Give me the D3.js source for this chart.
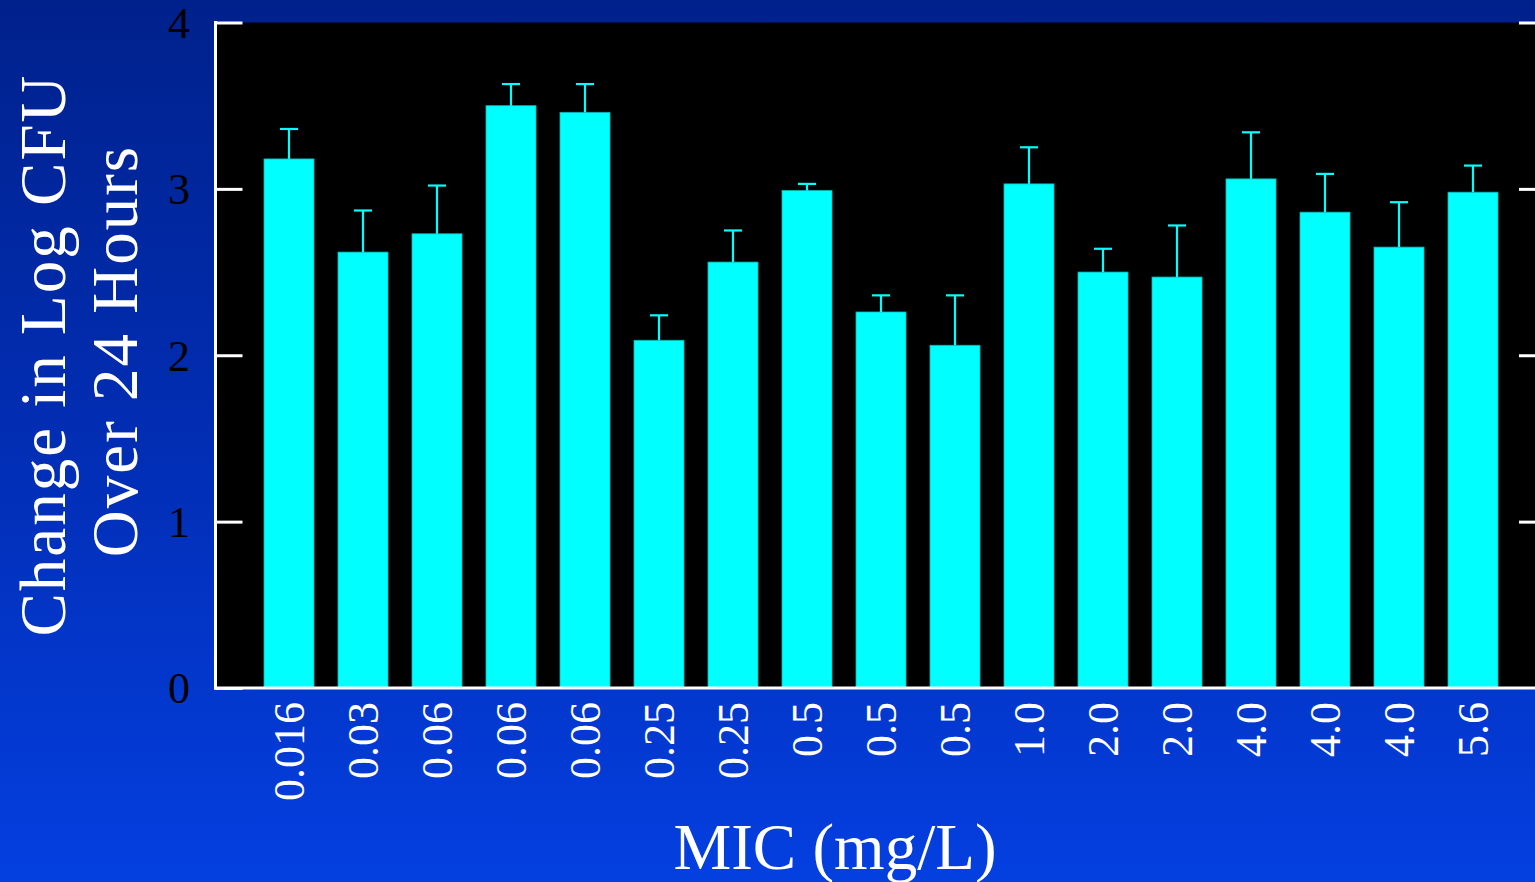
<!DOCTYPE html>
<html><head><meta charset="utf-8">
<script src="https://cdn.jsdelivr.net/npm/d3@7"></script>
<style>html,body{margin:0;padding:0;overflow:hidden;background:#0030c0}</style>
</head><body>
<script>
const categories = ["0.016","0.03","0.06","0.06","0.06","0.25","0.25","0.5","0.5","0.5","1.0","2.0","2.0","4.0","4.0","4.0","5.6"];
const values = [3.18,2.62,2.73,3.50,3.46,2.09,2.56,2.99,2.26,2.06,3.03,2.50,2.47,3.06,2.86,2.65,2.98];
const errorTops = [3.36,2.87,3.02,3.63,3.63,2.24,2.75,3.03,2.36,2.36,3.25,2.64,2.78,3.34,3.09,2.92,3.14];
const yTicks = [0,1,2,3,4];
const yTitle = ["Change in Log CFU","Over 24 Hours"];
const xTitle = "MIC (mg/L)";

const W = 1535, H = 882;
const svg = d3.select("body").append("svg").attr("width",W).attr("height",H);
const defs = svg.append("defs");
const g = defs.append("linearGradient").attr("id","bg").attr("x1",0).attr("y1",0).attr("x2",0).attr("y2",1);
g.append("stop").attr("offset","0%").attr("stop-color","#00218c");
g.append("stop").attr("offset","55%").attr("stop-color","#022fb8");
g.append("stop").attr("offset","100%").attr("stop-color","#043fe0");
svg.append("rect").attr("width",W).attr("height",H).attr("fill","url(#bg)");

const pLeft = 215.5, pRight = 1535, pTop = 22.5, pBottom = 688;
const y = d3.scaleLinear().domain([0,4]).range([pBottom, pTop]);
const idx = d3.range(categories.length);
const x = d3.scaleBand().domain(idx).range([252,1510]).paddingInner(24/74).paddingOuter(12/74);

svg.append("rect").attr("x",pLeft).attr("y",pTop).attr("width",pRight-pLeft).attr("height",pBottom-pTop).attr("fill","#000");

const serif = "'Liberation Serif','Times New Roman',serif";

// bars
svg.selectAll("rect.bar").data(idx).join("rect").attr("class","bar")
  .attr("x",i=>x(i)).attr("width",x.bandwidth())
  .attr("y",i=>y(values[i])).attr("height",i=>y(0)-y(values[i]))
  .attr("fill","#00ffff").attr("stroke","#00b8b8").attr("stroke-width",0.8);
// error bars
const eb = svg.append("g").attr("stroke","#00ffff").attr("stroke-width",2.2);
eb.selectAll("line.v").data(idx).join("line").attr("class","v")
  .attr("x1",i=>x(i)+x.bandwidth()/2).attr("x2",i=>x(i)+x.bandwidth()/2)
  .attr("y1",i=>y(values[i])).attr("y2",i=>y(errorTops[i]));
eb.selectAll("line.c").data(idx).join("line").attr("class","c")
  .attr("x1",i=>x(i)+x.bandwidth()/2-9).attr("x2",i=>x(i)+x.bandwidth()/2+9)
  .attr("y1",i=>y(errorTops[i])).attr("y2",i=>y(errorTops[i]));

// axes
const yAxis = d3.axisRight(y).tickValues(yTicks).tickSize(27).tickFormat("");
const ya = svg.append("g").attr("transform",`translate(${pLeft},0)`).call(yAxis);
ya.select(".domain").remove();
ya.selectAll(".tick line").attr("stroke","#fff").attr("stroke-width",3);
const yAxisR = d3.axisLeft(y).tickValues(yTicks.slice(1)).tickSize(16).tickFormat("");
const yr = svg.append("g").attr("transform",`translate(${pRight},0)`).call(yAxisR);
yr.select(".domain").remove();
yr.selectAll(".tick line").attr("stroke","#fff").attr("stroke-width",3);

svg.append("line").attr("x1",pLeft).attr("x2",pLeft).attr("y1",pTop-1.5).attr("y2",pBottom+1.5).attr("stroke","#fff").attr("stroke-width",3);
svg.append("line").attr("x1",pLeft-1.5).attr("x2",pRight).attr("y1",pBottom).attr("y2",pBottom).attr("stroke","#fff").attr("stroke-width",3);

// y tick labels
svg.selectAll("text.yt").data(yTicks).join("text").attr("class","yt")
  .attr("x",190).attr("y",d=>y(d)).attr("dy","0.35em").attr("text-anchor","end")
  .attr("font-family",serif).attr("font-size",44).attr("fill","#000").text(d=>d);

// x tick labels
svg.selectAll("text.xt").data(idx).join("text").attr("class","xt")
  .attr("transform",i=>`translate(${x(i)+x.bandwidth()/2},702) rotate(-90)`)
  .attr("dy","0.35em").attr("text-anchor","end")
  .attr("font-family",serif).attr("font-size",44).attr("fill","#fff").text(i=>categories[i]);

// titles
svg.append("text").attr("transform","translate(42,355) rotate(-90)").attr("dy","0.35em")
  .attr("text-anchor","middle").attr("font-family",serif).attr("font-size",65).attr("letter-spacing",2)
  .attr("fill","#fff").text(yTitle[0]);
svg.append("text").attr("transform","translate(114,351) rotate(-90)").attr("dy","0.35em")
  .attr("text-anchor","middle").attr("font-family",serif).attr("font-size",65).attr("letter-spacing",2)
  .attr("fill","#fff").text(yTitle[1]);
svg.append("text").attr("x",835).attr("y",869).attr("text-anchor","middle")
  .attr("font-family",serif).attr("font-size",65).attr("fill","#fff").text(xTitle);
</script>
</body></html>
